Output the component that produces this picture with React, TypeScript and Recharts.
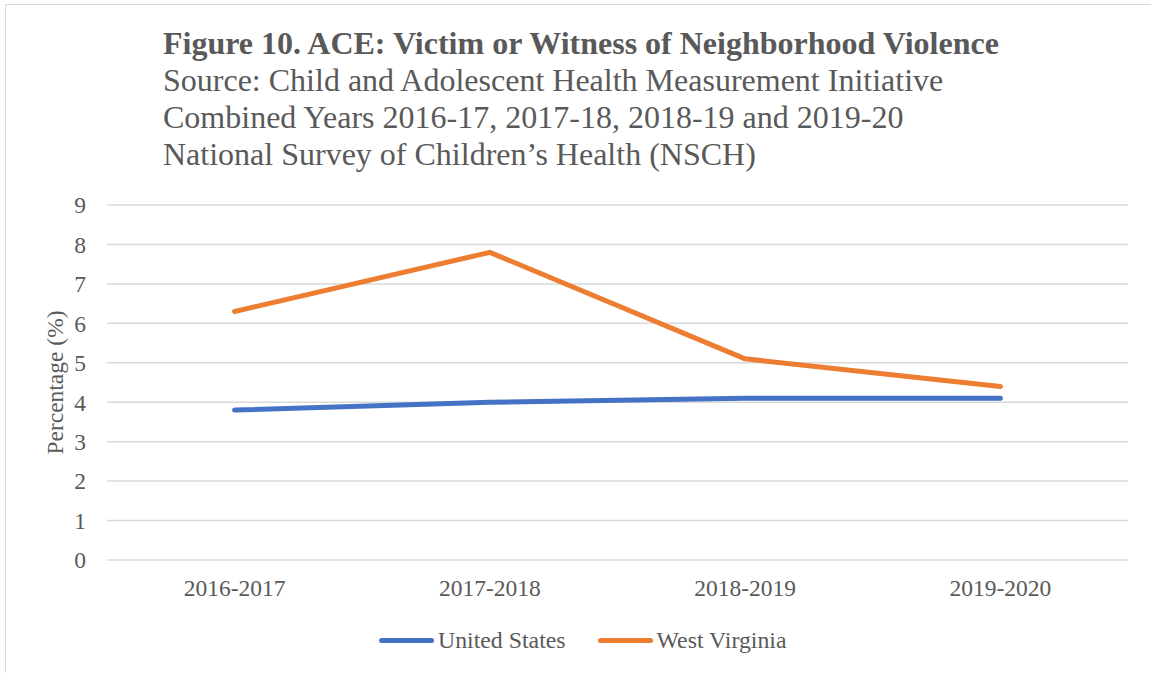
import { LineChart, Line, XAxis, YAxis, CartesianGrid } from 'recharts';

const categories = ['2016-2017', '2017-2018', '2018-2019', '2019-2020'];
const unitedStates = [3.8, 4.0, 4.1, 4.1];
const westVirginia = [6.3, 7.8, 5.1, 4.4];
const yTicks = [0, 1, 2, 3, 4, 5, 6, 7, 8, 9];

const title = 'Figure 10. ACE: Victim or Witness of Neighborhood Violence';
const subtitleLines = [
  'Source: Child and Adolescent Health Measurement Initiative',
  'Combined Years 2016-17, 2017-18, 2018-19 and 2019-20',
  'National Survey of Children\u2019s Health (NSCH)',
];

const series = [
  { key: 'us', name: 'United States', color: '#4472C4', values: unitedStates },
  { key: 'wv', name: 'West Virginia', color: '#ED7D31', values: westVirginia },
];

const chartData = categories.map((period, i) => ({
  period,
  us: unitedStates[i],
  wv: westVirginia[i],
}));

const FONT = '"Liberation Serif", "Times New Roman", serif';
const TEXT = '#595959';
const GRID = '#D9D9D9';

function YLabel({ viewBox }: any) {
  const cx = viewBox.x + 55;
  const cy = viewBox.y + viewBox.height / 2;
  return (
    <text
      x={cx}
      y={cy}
      transform={`rotate(-90, ${cx}, ${cy})`}
      textAnchor="middle"
      dominantBaseline="central"
      fill={TEXT}
      fontSize={23.5}
      fontFamily={FONT}
    >
      Percentage (%)
    </text>
  );
}

export default function App() {
  return (
    <div
      style={{
        position: 'absolute',
        left: 0,
        top: 0,
        width: 1151,
        height: 673,
        background: '#fff',
        overflow: 'hidden',
        fontFamily: FONT,
      }}
    >
      <div
        style={{
          position: 'absolute',
          left: 5,
          top: 4,
          width: 1300,
          height: 900,
          border: `1.5px solid ${GRID}`,
        }}
      />
      <div style={{ position: 'absolute', left: 163, top: 25, color: TEXT, fontSize: 32, lineHeight: '37px' }}>
        <div style={{ fontWeight: 'bold' }}>{title}</div>
        {subtitleLines.map((line) => (
          <div key={line}>{line}</div>
        ))}
      </div>

      <div style={{ position: 'absolute', left: 0, top: 0 }}>
        <LineChart
          width={1151}
          height={673}
          data={chartData}
          margin={{ top: 205, right: 23, bottom: 83, left: 0 }}
        >
          <CartesianGrid vertical={false} stroke={GRID} strokeWidth={1.5} />
          <XAxis
            dataKey="period"
            height={30}
            axisLine={false}
            tickLine={false}
            tickSize={0}
            tickMargin={19}
            padding={{ left: 127.6, right: 127.6 }}
            tick={{ fill: TEXT, fontSize: 23.5, fontFamily: FONT }}
          />
          <YAxis
            width={107}
            domain={[0, 9]}
            ticks={yTicks}
            interval={0}
            axisLine={false}
            tickLine={false}
            tickSize={0}
            tickMargin={21}
            tick={{ fill: TEXT, fontSize: 23.5, fontFamily: FONT }}
            label={<YLabel />}
          />
          {series.map((s) => (
            <Line
              key={s.key}
              type="linear"
              dataKey={s.key}
              name={s.name}
              stroke={s.color}
              strokeWidth={5}
              strokeLinecap="round"
              strokeLinejoin="round"
              dot={false}
              activeDot={false}
              isAnimationActive={false}
            />
          ))}
        </LineChart>
      </div>

      <div
        style={{
          position: 'absolute',
          left: 379,
          top: 623,
          display: 'flex',
          alignItems: 'center',
          color: TEXT,
          fontSize: 23.8,
          lineHeight: '34px',
        }}
      >
        {series.map((s, i) => (
          <div
            key={s.key}
            style={{ display: 'flex', alignItems: 'center', marginLeft: i === 0 ? 0 : 32 }}
          >
            <span
              style={{
                display: 'inline-block',
                width: 55,
                height: 5,
                borderRadius: 3,
                background: s.color,
                marginRight: 4,
              }}
            />
            <span>{s.name}</span>
          </div>
        ))}
      </div>
    </div>
  );
}
